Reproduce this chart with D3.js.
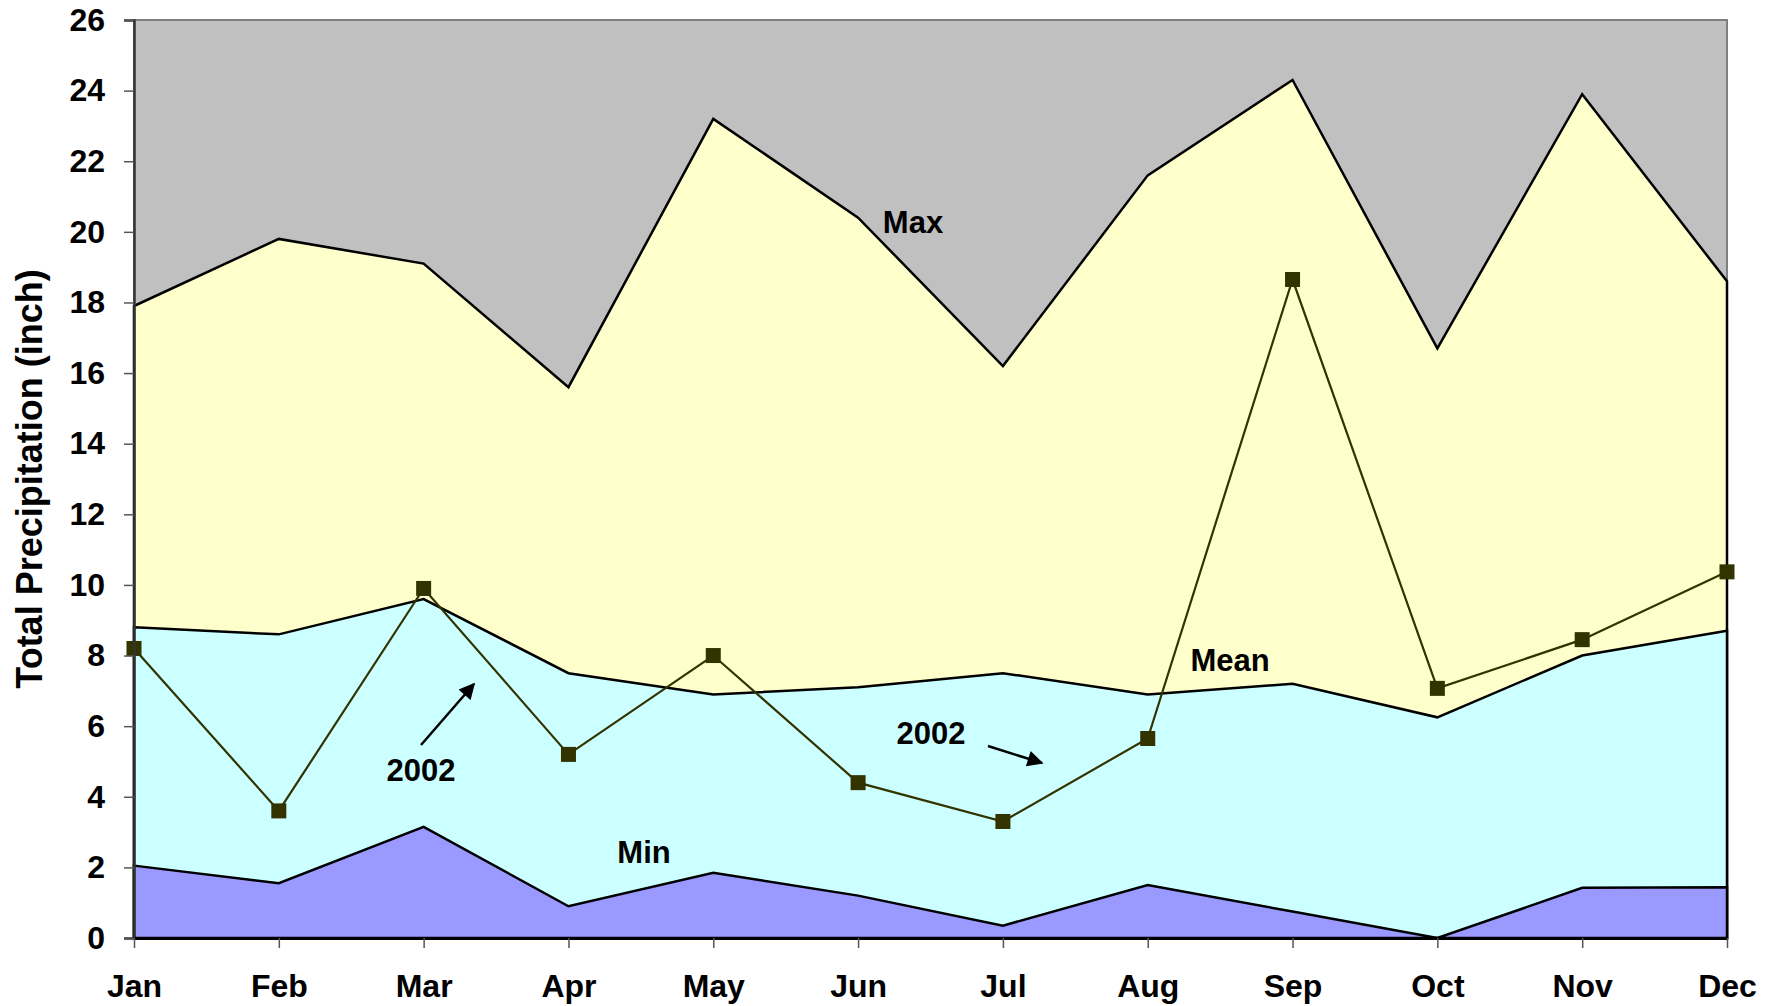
<!DOCTYPE html>
<html>
<head>
<meta charset="utf-8">
<script src="https://cdn.jsdelivr.net/npm/d3@7"></script>
<style>
    body { margin:0; background:white; font-family:Arial, 'Liberation Sans', sans-serif; }
    svg text { font-family:Arial, 'Liberation Sans', sans-serif; font-weight:bold; }
</style>
</head>
<body>
<svg id="chart" width="1775" height="1006"></svg>
<script>
// chart data (inch)
const months = ["Jan","Feb","Mar","Apr","May","Jun","Jul","Aug","Sep","Oct","Nov","Dec"];
const maxVals  = [17.9, 19.8, 19.1, 15.6, 23.2, 20.4, 16.2, 21.6, 24.3, 16.7, 23.9, 18.6];
const meanVals = [8.8, 8.6, 9.6, 7.5, 6.9, 7.1, 7.5, 6.9, 7.2, 6.25, 8.0, 8.7];
const minVals  = [2.05, 1.55, 3.15, 0.9, 1.85, 1.2, 0.35, 1.5, 0.75, 0.0, 1.42, 1.44];
const y2002    = [8.2, 3.6, 9.9, 5.2, 8.0, 4.4, 3.3, 5.65, 18.65, 7.07, 8.45, 10.37];
const yTicks = d3.range(0, 27, 2);

const dims = { width: 1775, height: 1006 };
const margins = { left: 134, right: 48, top: 20, bottom: 68 };

const svg = d3.select('#chart');

const x = d3.scalePoint()
    .domain(months)
    .range([margins.left, dims.width - margins.right]);
const y = d3.scaleLinear()
    .domain([0, 26])
    .range([dims.height - margins.bottom, margins.top]);

// plot background (max area sits on top of grey)
svg.append('rect')
    .attr('x', margins.left).attr('y', margins.top)
    .attr('width', dims.width - margins.right - margins.left)
    .attr('height', dims.height - margins.bottom - margins.top)
    .attr('fill', '#c0c0c0')
    .attr('stroke', '#808080').attr('stroke-width', 2);

const area = d3.area()
    .x((d, i) => x(months[i]))
    .y0(y(0))
    .y1(d => y(d));

const series = [
    { vals: maxVals, fill: '#ffffcc' },
    { vals: meanVals, fill: '#ccffff' },
    { vals: minVals, fill: '#9999ff' }
];
series.forEach(s => {
    svg.append('path')
        .datum(s.vals)
        .attr('d', area(s.vals) + 'Z')
        .attr('fill', s.fill)
        .attr('stroke', 'black')
        .attr('stroke-width', 2.5)
        .attr('stroke-linejoin', 'miter');
});

// 2002 line with square markers
const line = d3.line()
    .x((d, i) => x(months[i]))
    .y(d => y(d));
svg.append('path')
    .attr('d', line(y2002))
    .attr('fill', 'none')
    .attr('stroke', '#333300')
    .attr('stroke-width', 2.2);
svg.selectAll('rect.mark')
    .data(y2002)
    .enter().append('rect')
    .attr('class', 'mark')
    .attr('x', (d, i) => x(months[i]) - 7.5)
    .attr('y', d => y(d) - 7.5)
    .attr('width', 15).attr('height', 15)
    .attr('fill', '#333300');

// axes
const yAxis = d3.axisLeft(y).tickValues(yTicks).tickSize(10).tickPadding(19);
const gy = svg.append('g')
    .attr('transform', `translate(${margins.left},0)`)
    .call(yAxis);
gy.select('.domain').attr('stroke', '#333').attr('stroke-width', 2.5);
gy.selectAll('.tick line').attr('stroke', '#555').attr('stroke-width', 1.5);
gy.selectAll('.tick text').attr('font-size', 32).attr('fill', 'black');

const xAxis = d3.axisBottom(x).tickSize(10).tickPadding(26).tickSizeOuter(0);
const gx = svg.append('g')
    .attr('transform', `translate(0,${y(0)})`)
    .call(xAxis);
gx.select('.domain').attr('stroke', 'black').attr('stroke-width', 3);
gx.selectAll('.tick line').attr('stroke', '#555').attr('stroke-width', 1.5);
gx.selectAll('.tick text').attr('font-size', 32).attr('fill', 'black');

svg.append('text')
    .attr('transform', `translate(42,${(y(0) + y(26)) / 2}) rotate(-90)`)
    .attr('text-anchor', 'middle')
    .attr('font-size', 36)
    .text('Total Precipitation (inch)');

// in-plot labels
const labels = [
    { t: 'Max', x: 913, y: 233 },
    { t: 'Mean', x: 1230, y: 671 },
    { t: 'Min', x: 644, y: 863 },
    { t: '2002', x: 421, y: 781 },
    { t: '2002', x: 931, y: 744 }
];
svg.selectAll('text.lbl')
    .data(labels)
    .enter().append('text')
    .attr('class', 'lbl')
    .attr('x', d => d.x).attr('y', d => d.y)
    .attr('text-anchor', 'middle')
    .attr('font-size', 31)
    .text(d => d.t);

// arrows
svg.append('defs').append('marker')
    .attr('id', 'head')
    .attr('viewBox', '0 0 10 10')
    .attr('refX', 9).attr('refY', 5)
    .attr('markerUnits', 'userSpaceOnUse')
    .attr('orient', 'auto')
    .attr('markerWidth', 18).attr('markerHeight', 16)
    .append('path').attr('d', 'M0,0 L10,5 L0,10 Z').attr('fill', 'black');
const arrows = [
    [[421, 745], [474, 684]],
    [[988, 746], [1042, 763]]
];
arrows.forEach(a => {
    svg.append('line')
        .attr('x1', a[0][0]).attr('y1', a[0][1])
        .attr('x2', a[1][0]).attr('y2', a[1][1])
        .attr('stroke', 'black').attr('stroke-width', 2.5)
        .attr('marker-end', 'url(#head)');
});
</script>
</body>
</html>
